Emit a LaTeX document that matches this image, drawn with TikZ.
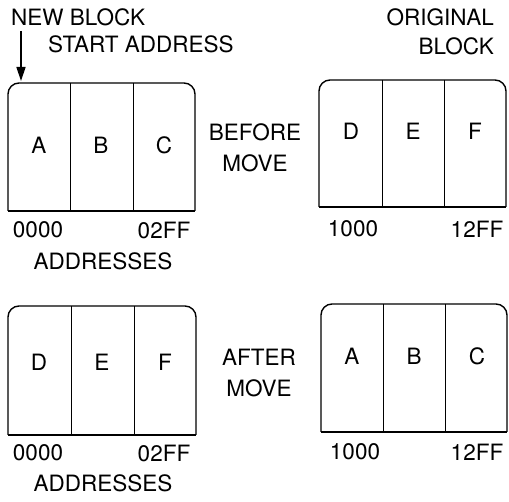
\documentclass[tikz,border=0pt]{standalone}
\usepackage{fontspec}
\setmainfont{TeX Gyre Heros}
\usetikzlibrary{arrows.meta}
\begin{document}
\begin{tikzpicture}[x=1pt,y=-1pt,
  lbl/.style={inner sep=0pt,font=\fontsize{22.5}{24}\selectfont},
  boxline/.style={line width=1.4pt},
  divline/.style={line width=0.6pt},
  arrowline/.style={line width=1.4pt,-{Triangle[length=14pt,width=9pt]}}]
\useasboundingbox (0,0) rectangle (509,502);
% Top-left block
\draw[boxline,rounded corners=11pt] (8,211) -- (8,83) -- (195,83) -- (195,211);
\draw[boxline] (8,211) -- (195,211);
\draw[divline] (70,83) -- (70,211);
\draw[divline] (133,83) -- (133,211);
\coordinate (tltop) at (21,81);
% Top-right block
\draw[boxline,rounded corners=11pt] (319,207) -- (319,80) -- (506,80) -- (506,207);
\draw[boxline] (319,207) -- (506,207);
\draw[divline] (382,80) -- (382,207);
\draw[divline] (444,80) -- (444,207);
% Bottom-left block
\draw[boxline,rounded corners=11pt] (8,435) -- (8,306) -- (196,306) -- (196,435);
\draw[boxline] (8,435) -- (196,435);
\draw[divline] (71,306) -- (71,435);
\draw[divline] (134,306) -- (134,435);
% Bottom-right block
\draw[boxline,rounded corners=11pt] (321,432) -- (321,304) -- (507,304) -- (507,432);
\draw[boxline] (321,432) -- (507,432);
\draw[divline] (383,304) -- (383,432);
\draw[divline] (445,304) -- (445,432);

% header labels
\node[lbl,anchor=west] (newblock) at (11,17) {NEW BLOCK};
\node[lbl,anchor=west] (startaddr) at (48,44) {START ADDRESS};
\node[lbl,anchor=east] (orig) at (494,17) {ORIGINAL};
\node[lbl,anchor=east] (blk) at (494,46) {BLOCK};
\coordinate (arrstart) at (21,31);
\draw[arrowline] (arrstart) -- (tltop);

% letters top-left
\node[lbl] (a1) at (39,145) {A};
\node[lbl] (b1) at (101,145) {B};
\node[lbl] (c1) at (164,145) {C};
% letters top-right
\node[lbl] (d1) at (351,131) {D};
\node[lbl] (e1) at (413,131) {E};
\node[lbl] (f1) at (475,131) {F};
% letters bottom-left
\node[lbl] (d2) at (39,362) {D};
\node[lbl] (e2) at (102,362) {E};
\node[lbl] (f2) at (165,362) {F};
% letters bottom-right
\node[lbl] (a2) at (352,356) {A};
\node[lbl] (b2) at (414,356) {B};
\node[lbl] (c2) at (477,356) {C};

% middle labels
\node[lbl] (before) at (255,132) {BEFORE};
\node[lbl] (move1) at (255,163) {MOVE};
\node[lbl] (after) at (259,357) {AFTER};
\node[lbl] (move2) at (259,388) {MOVE};

% addresses
\node[lbl] (z1) at (38,230) {0000};
\node[lbl] (ff1) at (164,230) {02FF};
\node[lbl] (ad1) at (103,261) {ADDRESSES};
\node[lbl] (o1) at (353,229) {1000};
\node[lbl] (tf1) at (477,229) {12FF};

\node[lbl] (z2) at (38,453) {0000};
\node[lbl] (ff2) at (164,453) {02FF};
\node[lbl] (ad2) at (103,483) {ADDRESSES};
\node[lbl] (o2) at (355,452) {1000};
\node[lbl] (tf2) at (477,452) {12FF};
\end{tikzpicture}
\end{document}
